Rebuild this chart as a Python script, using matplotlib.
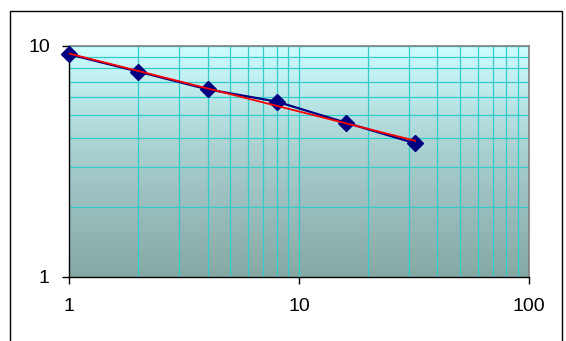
import numpy as np
import matplotlib.pyplot as plt
from matplotlib.patches import Rectangle
from matplotlib.colors import LinearSegmentedColormap
from matplotlib.ticker import LogLocator, NullFormatter

plt.rcParams['font.family'] = ['Liberation Sans', 'DejaVu Sans']

# measured series
x = [1, 2, 4, 8, 16, 32]
y = [9.2, 7.74, 6.49, 5.74, 4.65, 3.79]

# power-law trend fitted in log space
b, a = np.polyfit(np.log10(x), np.log10(y), 1)
x_fit = np.array([x[0], x[-1]])
y_fit = 10 ** (a + b * np.log10(x_fit))

fig = plt.figure(figsize=(5.66, 3.41), dpi=100)
fig.patch.set_facecolor('white')

# outer chart border
fig.patches.append(Rectangle((10 / 566, -0.05), 552 / 566, (341 - 11) / 341 + 0.05,
                             transform=fig.transFigure, fill=False,
                             edgecolor='black', linewidth=1.0))

ax = fig.add_axes([69.3 / 566, 64.3 / 341, 459.4 / 566, 230.7 / 341])
ax.set_xscale('log')
ax.set_yscale('log')
ax.set_xlim(1, 100)
ax.set_ylim(1, 10)

# vertical gradient behind the plot
cmap = LinearSegmentedColormap.from_list('bg', ['#86a8a4', '#a6cccc', '#ccfdfd'])
grad = np.linspace(0, 1, 256).reshape(-1, 1)
ax.imshow(grad, cmap=cmap, origin='lower', aspect='auto',
          extent=[0, 1, 0, 1], transform=ax.transAxes, zorder=0)

ax.xaxis.set_major_locator(LogLocator(base=10))
ax.yaxis.set_major_locator(LogLocator(base=10))
ax.xaxis.set_minor_locator(LogLocator(base=10, subs=range(2, 10)))
ax.yaxis.set_minor_locator(LogLocator(base=10, subs=range(2, 10)))
ax.xaxis.set_minor_formatter(NullFormatter())
ax.yaxis.set_minor_formatter(NullFormatter())
ax.set_xticks([1, 10, 100])
ax.set_xticklabels(['1', '10', '100'])
ax.set_yticks([1, 10])
ax.set_yticklabels(['1', '10'])

ax.grid(True, which='both', color='#33cccc', linewidth=0.9, zorder=1)
ax.set_axisbelow(True)

ax.tick_params(which='major', direction='out', length=5, width=1,
               labelsize=14, color='black')
ax.tick_params(axis='y', which='major', pad=9)
ax.tick_params(axis='x', which='major', pad=10)
ax.tick_params(which='minor', length=0)

for side in ['top', 'right']:
    ax.spines[side].set_color('#808080')
    ax.spines[side].set_linewidth(1.2)
for side in ['left', 'bottom']:
    ax.spines[side].set_color('black')
    ax.spines[side].set_linewidth(1.0)

ax.plot(x, y, color='#000080', linewidth=1.6, marker='D', markersize=8,
        markerfacecolor='#000080', markeredgecolor='#000080', zorder=3,
        clip_on=False)
ax.plot(x_fit, y_fit, color='#ff0000', linewidth=1.3, zorder=4)

fig.savefig('out.png', dpi=100)
